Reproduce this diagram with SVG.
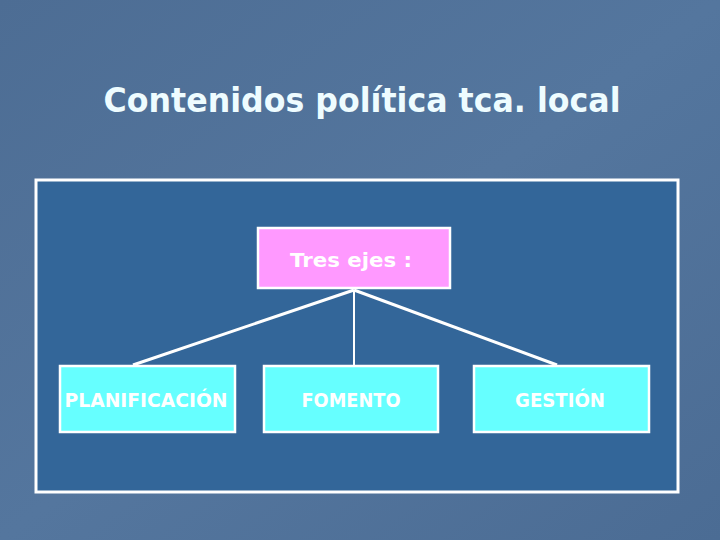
<svg xmlns="http://www.w3.org/2000/svg" width="720" height="540" viewBox="0 0 720 540">
<style>
.t{font-family:"DejaVu Sans",Verdana,sans-serif;fill:#ffffff;text-anchor:middle}
.title{font-size:33px;font-weight:bold;fill:#eefcff}
.lbl{font-size:20px;font-weight:bold}
.box{stroke:#ffffff;stroke-width:2.5}
.con{stroke:#ffffff;fill:none}
</style>
<defs>
<linearGradient id="bg" x1="0" y1="0" x2="1" y2="1">
<stop offset="0" stop-color="#4d6d94"/>
<stop offset="0.5" stop-color="#54769e"/>
<stop offset="1" stop-color="#4b6c94"/>
</linearGradient>
</defs>
<rect width="720" height="540" fill="url(#bg)"/>
<text class="t title" x="362" y="112" textLength="517" lengthAdjust="spacingAndGlyphs">Contenidos política tca. local</text>
<g id="frame"><rect x="36" y="180" width="642" height="312" fill="#336699" stroke="#ffffff" stroke-width="3"/></g>
<g id="connectors">
<line class="con" x1="354" y1="290" x2="133" y2="365" stroke-width="3"/>
<line class="con" x1="354" y1="290" x2="354" y2="366" stroke-width="2"/>
<line class="con" x1="354" y1="290" x2="557" y2="365" stroke-width="3"/>
</g>
<g id="tres"><rect class="box" x="258" y="228" width="192" height="60" fill="#ff99ff"/>
<text class="t lbl" x="351" y="267" textLength="122" lengthAdjust="spacingAndGlyphs">Tres ejes :</text></g>
<g id="planificacion"><rect class="box" x="60" y="366" width="175" height="66" fill="#66ffff"/>
<text class="t lbl" x="146" y="407" textLength="163" lengthAdjust="spacingAndGlyphs">PLANIFICACIÓN</text></g>
<g id="fomento"><rect class="box" x="264" y="366" width="174" height="66" fill="#66ffff"/>
<text class="t lbl" x="351" y="407" textLength="99" lengthAdjust="spacingAndGlyphs">FOMENTO</text></g>
<g id="gestion"><rect class="box" x="474" y="366" width="175" height="66" fill="#66ffff"/>
<text class="t lbl" x="560" y="407" textLength="90" lengthAdjust="spacingAndGlyphs">GESTIÓN</text></g>
</svg>
